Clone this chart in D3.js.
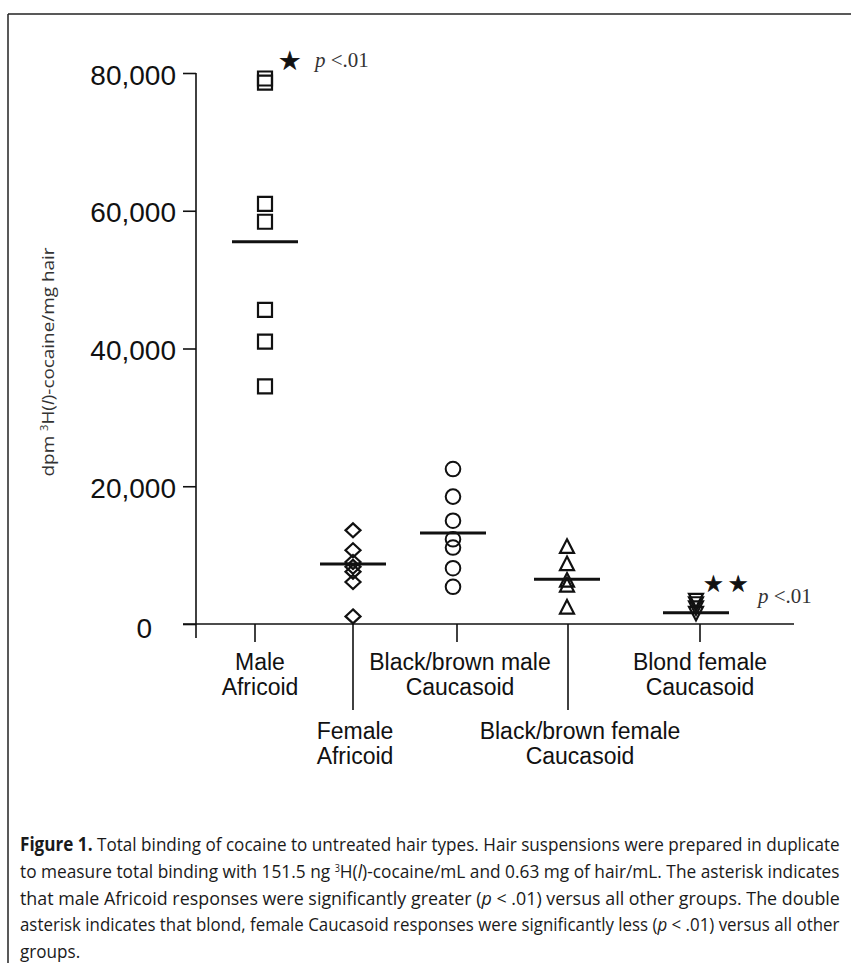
<!DOCTYPE html>
<html>
<head>
<meta charset="utf-8">
<script src="https://cdn.jsdelivr.net/npm/d3@7"></script>
<style>
  html, body { margin: 0; padding: 0; background: #fff; }
  svg { display: block; }
</style>
</head>
<body>
<svg id="chart" width="851" height="963"></svg>
<script>
// ---------- DATA ----------
const categories = [
  "Male Africoid",
  "Female Africoid",
  "Black/brown male Caucasoid",
  "Black/brown female Caucasoid",
  "Blond female Caucasoid"
];
const categoryLabelLines = [
  ["Male", "Africoid"],
  ["Female", "Africoid"],
  ["Black/brown male", "Caucasoid"],
  ["Black/brown female", "Caucasoid"],
  ["Blond female", "Caucasoid"]
];
const maleAfricoid          = [79200, 78600, 61000, 58400, 45600, 41000, 34500];
const femaleAfricoid        = [13600, 10700, 9000, 8300, 7600, 6100, 1100];
const blackBrownMaleCauc    = [22500, 18500, 15000, 12300, 11100, 8100, 5400];
const blackBrownFemaleCauc  = [11300, 8800, 6400, 5700, 2500];
const blondFemaleCauc       = [3400, 2900, 2300, 1500];
const groupMeans            = [55500, 8700, 13200, 6500, 1650];
const yTicks      = [0, 20000, 40000, 60000, 80000];
const yTickLabels = ["0", "20,000", "40,000", "60,000", "80,000"];
const significance = [
  { category: "Male Africoid", stars: "★", p: "<.01" },
  { category: "Blond female Caucasoid", stars: "★★", p: "<.01" }
];

// ---------- LAYOUT ----------
const svg = d3.select("#chart");
const ink = "#111";

const y = d3.scaleLinear().domain([0, 80000]).range([624, 73]);
const xTick  = d3.scaleOrdinal().domain(categories).range([255, 353, 457, 568, 700]);
const xMark  = d3.scaleOrdinal().domain(categories).range([265, 353, 453, 567, 696]);
const xLabel = d3.scaleOrdinal().domain(categories).range([260, 355, 460, 580, 700]);
const labelRow = d3.scaleOrdinal().domain(categories).range([0, 1, 0, 1, 0]);
const symbolPath = d3.scaleOrdinal().domain(categories).range([
  "M-7,-7h14v14h-14z",
  "M0,-7L7.5,0L0,7L-7.5,0Z",
  "circle",
  "M0,-6.8L7,6.8L-7,6.8Z",
  "M-7,-6.8L7,-6.8L0,6.8Z"
]);
const seriesValues = [maleAfricoid, femaleAfricoid, blackBrownMaleCauc, blackBrownFemaleCauc, blondFemaleCauc];

// frame of the scanned figure
svg.append("line").attr("x1", 8).attr("x2", 851).attr("y1", 14).attr("y2", 14)
  .attr("stroke", "#222").attr("stroke-width", 1.5);
svg.append("line").attr("x1", 8).attr("x2", 8).attr("y1", 14).attr("y2", 963)
  .attr("stroke", "#222").attr("stroke-width", 1.5);

// ---------- Y AXIS ----------
const yAxisX = 196;
const yAxis = d3.axisLeft(y).tickValues(yTicks)
  .tickFormat((d, i) => yTickLabels[i])
  .tickSize(13).tickSizeOuter(0).tickPadding(7);
const gy = svg.append("g").attr("transform", `translate(${yAxisX},0)`).call(yAxis);
gy.select(".domain").remove();
gy.selectAll(".tick line").attr("stroke", ink).attr("stroke-width", 1.6);
gy.selectAll(".tick text")
  .attr("font-family", "'Liberation Sans', Arial, Helvetica, sans-serif")
  .attr("font-size", 28).attr("fill", ink)
  .attr("dy", "0.36em")
  .attr("x", d => d === 0 ? -44 : -20)
  .attr("y", d => d === 0 ? 3 : 1);
svg.append("line").attr("x1", yAxisX).attr("x2", yAxisX)
  .attr("y1", y(80000)).attr("y2", y(0) + 14)
  .attr("stroke", ink).attr("stroke-width", 1.6);

// Y title
const yt = svg.append("text")
  .attr("transform", `translate(54,${362}) rotate(-90)`)
  .attr("text-anchor", "middle")
  .attr("font-family", "'Open Sans', 'DejaVu Sans', sans-serif")
  .attr("font-size", 17).attr("fill", "#333");
yt.append("tspan").text("dpm ");
yt.append("tspan").attr("font-size", 10).attr("dy", -6).text("3");
yt.append("tspan").attr("dy", 6).text("H(");
yt.append("tspan").attr("font-style", "italic").text("l");
yt.append("tspan").text(")-cocaine/mg hair");
yt.attr("textLength", 229).attr("lengthAdjust", "spacingAndGlyphs");

// ---------- X AXIS ----------
svg.append("line").attr("x1", 183).attr("x2", 794)
  .attr("y1", y(0)).attr("y2", y(0))
  .attr("stroke", ink).attr("stroke-width", 1.6);
svg.append("g").selectAll("line").data(categories).join("line")
  .attr("x1", d => xTick(d)).attr("x2", d => xTick(d))
  .attr("y1", y(0)).attr("y2", d => y(0) + (labelRow(d) === 1 ? 86 : 18))
  .attr("stroke", ink).attr("stroke-width", 1.6);

const labels = svg.append("g")
  .attr("font-family", "'Liberation Sans', Arial, Helvetica, sans-serif")
  .attr("font-size", 23).attr("fill", ink).attr("text-anchor", "middle");
categories.forEach((c, i) => {
  const base = labelRow(c) === 1 ? 739 : 670;
  categoryLabelLines[i].forEach((line, j) => {
    labels.append("text").attr("x", xLabel(c)).attr("y", base + j * 25).text(line);
  });
});

// ---------- MEANS ----------
svg.append("g").selectAll("line").data(categories).join("line")
  .attr("x1", d => xMark(d) - 33).attr("x2", d => xMark(d) + 33)
  .attr("y1", (d, i) => y(groupMeans[i])).attr("y2", (d, i) => y(groupMeans[i]))
  .attr("stroke", ink).attr("stroke-width", 3);

// ---------- POINTS ----------
const pts = svg.append("g");
categories.forEach((c, i) => {
  const g = pts.append("g").attr("class", "series");
  const shape = symbolPath(c);
  if (shape === "circle") {
    g.selectAll("circle").data(seriesValues[i]).join("circle")
      .attr("cx", xMark(c)).attr("cy", d => y(d)).attr("r", 7.3)
      .attr("fill", "none").attr("stroke", ink).attr("stroke-width", 2);
  } else {
    g.selectAll("path").data(seriesValues[i]).join("path")
      .attr("d", shape)
      .attr("transform", d => `translate(${xMark(c)},${y(d)})`)
      .attr("fill", "none").attr("stroke", ink).attr("stroke-width", 2.2)
      .attr("stroke-linejoin", "miter");
  }
});

// ---------- SIGNIFICANCE ----------
const maxOf = c => d3.max(seriesValues[categories.indexOf(c)]);
significance.forEach((s, k) => {
  const c = s.category;
  const top = y(maxOf(c));
  const starX = k === 0 ? xMark(c) + 14 : xMark(c) + 8;
  const starY = k === 0 ? top - 10 : top - 10;
  svg.append("text")
    .attr("x", starX).attr("y", starY)
    .attr("font-family", "'DejaVu Sans', sans-serif")
    .attr("font-weight", "bold")
    .attr("font-size", k === 0 ? 24 : 21)
    .attr("letter-spacing", k === 0 ? 0 : 6)
    .attr("fill", ink).attr("stroke", ink).attr("stroke-width", 0.8)
    .text(s.stars);
  const pt = svg.append("text")
    .attr("x", k === 0 ? xMark(c) + 50 : xMark(c) + 62)
    .attr("y", k === 0 ? top - 12 : top + 2)
    .attr("font-family", "'Liberation Serif', 'Times New Roman', serif")
    .attr("font-size", 21).attr("fill", "#333");
  pt.append("tspan").attr("font-style", "italic").text("p");
  pt.append("tspan").text(" " + s.p);
});

// ---------- CAPTION ----------
const cap = svg.append("g")
  .attr("font-family", "'Open Sans', 'DejaVu Sans', sans-serif")
  .attr("font-size", 19).attr("fill", "#1a1a1a");
const capX = 20, capW = 820, capY0 = 851, capDY = 26.8;
const capLines = [
  [["b", "Figure 1."], ["", " Total binding of cocaine to untreated hair types. Hair suspensions were prepared in duplicate"]],
  [["", "to measure total binding with 151.5 ng "], ["sup", "3"], ["", "H("], ["i", "l"], ["", ")-cocaine/mL and 0.63 mg of hair/mL. The asterisk indicates"]],
  [["", "that male Africoid responses were significantly greater ("], ["i", "p"], ["", " < .01) versus all other groups. The double"]],
  [["", "asterisk indicates that blond, female Caucasoid responses were significantly less ("], ["i", "p"], ["", " < .01) versus all other"]],
  [["", "groups."]]
];
let squeeze = 1;
capLines.forEach((parts, li) => {
  const t = cap.append("text").attr("x", 0).attr("y", 0);
  let raised = false;
  parts.forEach(([kind, str]) => {
    const ts = t.append("tspan").text(str);
    if (kind === "b") ts.attr("font-weight", "bold");
    if (kind === "i") ts.attr("font-style", "italic");
    if (kind === "sup") { ts.attr("font-size", 10).attr("dy", -6); raised = true; }
    else if (raised) { ts.attr("dy", 6); raised = false; }
  });
  const natural = t.node().getComputedTextLength();
  let sx = squeeze;
  if (li < capLines.length - 1) {
    sx = capW / natural;
    if (li === 0) squeeze = sx;
  }
  t.attr("transform", `translate(${capX},${capY0 + li * capDY}) scale(${sx},1)`);
});
</script>
</body>
</html>
